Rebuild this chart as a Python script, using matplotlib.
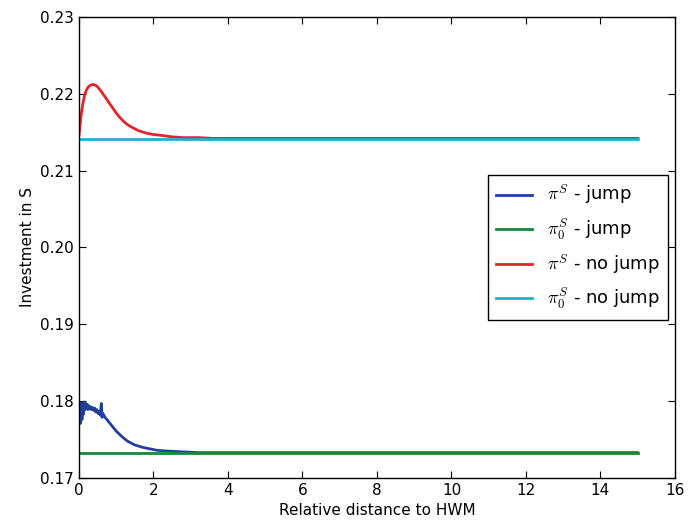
import matplotlib
matplotlib.use("Agg")
import matplotlib.pyplot as plt
import numpy as np

plt.rcParams['mathtext.fontset'] = 'cm'
plt.rcParams['font.family'] = ['DejaVu Sans']

# pi^S - jump (noisy start, then decay)
x_jump = [0.0, 0.02, 0.04, 0.06, 0.08, 0.10, 0.12, 0.14, 0.16, 0.18, 0.20, 0.22, 0.24,
          0.26, 0.28, 0.30, 0.33, 0.36, 0.39, 0.42, 0.45, 0.48, 0.51, 0.54, 0.57, 0.60,
          0.62, 0.64, 0.70, 0.80, 0.90, 1.0, 1.15, 1.3, 1.5, 1.7, 1.9, 2.1, 2.4, 2.8,
          3.2, 3.6, 4.0, 5.0, 6.0, 8.0, 10.0, 12.0, 15.0]
y_jump = [0.1788, 0.1797, 0.1771, 0.1798, 0.1776, 0.1795, 0.1783, 0.1799, 0.1789, 0.1797,
          0.1791, 0.1796, 0.1789, 0.1794, 0.1790, 0.1793, 0.1789, 0.1792, 0.1788, 0.1791,
          0.1786, 0.1789, 0.1784, 0.1787, 0.1782, 0.1797, 0.1779, 0.1784, 0.1779, 0.1773,
          0.1767, 0.1761, 0.1754, 0.1748, 0.1743, 0.1740, 0.1738, 0.1736, 0.1735, 0.1734,
          0.1733, 0.1733, 0.1733, 0.1733, 0.1733, 0.1733, 0.1733, 0.1733, 0.1733]

# pi^S - no jump
x_nojump = [0.0, 0.05, 0.1, 0.15, 0.2, 0.25, 0.3, 0.35, 0.4, 0.45, 0.5, 0.6, 0.7, 0.8,
            0.9, 1.0, 1.1, 1.2, 1.3, 1.4, 1.6, 1.8, 2.0, 2.2, 2.5, 2.8, 3.2, 3.6, 4.0,
            5.0, 6.0, 8.0, 10.0, 12.0, 15.0]
y_nojump = [0.2146, 0.2170, 0.2186, 0.2198, 0.2205, 0.2209, 0.2211, 0.2212, 0.2212, 0.2211,
            0.2209, 0.2203, 0.2196, 0.2189, 0.2182, 0.2175, 0.2169, 0.2164, 0.2160, 0.2157,
            0.2152, 0.2149, 0.2147, 0.2146, 0.2144, 0.2143, 0.2143, 0.2142, 0.2142,
            0.2142, 0.2142, 0.2142, 0.2142, 0.2142, 0.2142]

x_const = [0.0, 15.0]
y0_jump = [0.1732, 0.1732]
y0_nojump = [0.21415, 0.21415]

fig = plt.figure(figsize=(6.88, 5.31), dpi=100)
ax = fig.add_axes([0.1148, 0.0998, 0.981 - 0.1148, 0.968 - 0.0998])

lw = 2.0
ax.plot(x_jump, y_jump, color='#233f9c', lw=lw, label=r'$\pi^S$ - jump')
ax.plot(x_const, y0_jump, color='#138a3c', lw=lw, label=r'$\pi^S_0$ - jump')
ax.plot(x_nojump, y_nojump, color='#e3242b', lw=lw, label=r'$\pi^S$ - no jump')
ax.plot(x_const, y0_nojump, color='#1db4c0', lw=lw, label=r'$\pi^S_0$ - no jump')

ax.set_xlim(0, 16)
ax.set_ylim(0.17, 0.23)
ax.set_xticks(np.arange(0, 17, 2))
ax.set_yticks([0.17, 0.18, 0.19, 0.20, 0.21, 0.22, 0.23])
ax.set_yticklabels(['0.17', '0.18', '0.19', '0.20', '0.21', '0.22', '0.23'])
ax.tick_params(direction='in', top=True, right=True, labelsize=11, length=5, width=0.8)
ax.set_xlabel('Relative distance to HWM', fontsize=11)
ax.set_ylabel('Investment in S', fontsize=11)
for s in ax.spines.values():
    s.set_linewidth(1.0)

leg = ax.legend(loc='center right', fontsize=13, fancybox=False, framealpha=1,
                edgecolor='black', handlelength=2.0, borderpad=0.45, labelspacing=0.55,
                borderaxespad=0.4)
leg.get_frame().set_linewidth(1.0)

fig.savefig('out.png', dpi=100)
